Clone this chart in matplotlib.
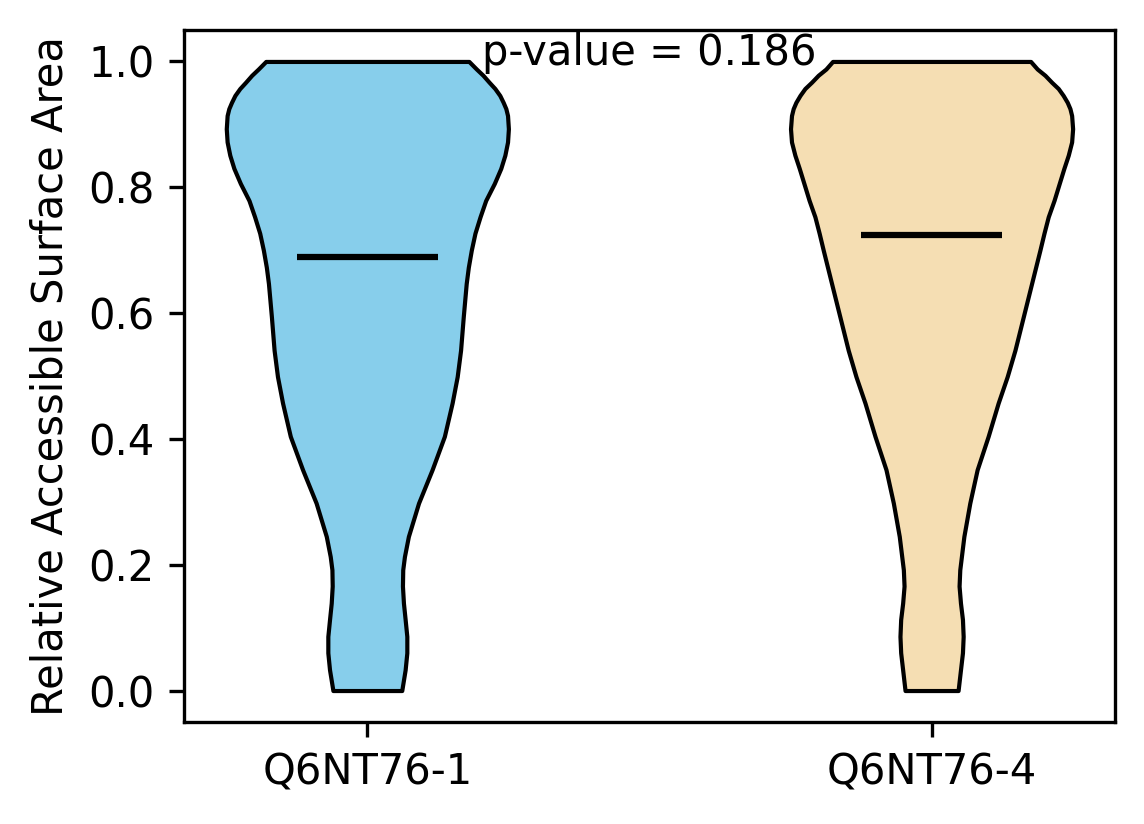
import matplotlib
matplotlib.use('Agg')
import matplotlib.pyplot as plt

# Relative density of each violin at the RSA levels below
isoforms = ['Q6NT76-1', 'Q6NT76-4']
colors = ['skyblue', 'wheat']
p_value = 0.186

rsa_1 = [0.0, 0.033, 0.060, 0.086, 0.113, 0.139, 0.166, 0.192, 0.213, 0.245,
         0.298, 0.351, 0.404, 0.457, 0.499, 0.541, 0.594, 0.647, 0.673, 0.700,
         0.727, 0.753, 0.779, 0.806, 0.830, 0.851, 0.872, 0.893, 0.914, 0.925,
         0.935, 0.946, 0.957, 0.967, 0.978, 0.988, 1.0]
dens_1 = [0.244, 0.268, 0.280, 0.280, 0.268, 0.256, 0.249, 0.251, 0.263, 0.291,
          0.363, 0.459, 0.546, 0.601, 0.637, 0.661, 0.680, 0.701, 0.716, 0.737,
          0.763, 0.799, 0.839, 0.900, 0.946, 0.975, 0.994, 1.000, 0.994, 0.982,
          0.963, 0.939, 0.904, 0.863, 0.820, 0.773, 0.720]
mean_1 = 0.689

rsa_4 = [0.0, 0.033, 0.060, 0.086, 0.113, 0.139, 0.166, 0.192, 0.245, 0.298,
         0.351, 0.404, 0.457, 0.499, 0.541, 0.594, 0.647, 0.700, 0.727, 0.753,
         0.779, 0.806, 0.830, 0.851, 0.872, 0.893, 0.914, 0.925, 0.935, 0.946,
         0.957, 0.967, 0.978, 0.988, 1.0]
dens_4 = [0.188, 0.205, 0.219, 0.224, 0.219, 0.205, 0.195, 0.200, 0.229, 0.271,
          0.323, 0.401, 0.472, 0.536, 0.591, 0.650, 0.709, 0.768, 0.797, 0.827,
          0.868, 0.905, 0.938, 0.969, 0.993, 1.000, 0.993, 0.981, 0.962, 0.933,
          0.898, 0.851, 0.804, 0.749, 0.702]
mean_4 = 0.724


def make_stats(coords, vals, mean):
    return {'coords': coords, 'vals': vals, 'mean': mean, 'median': mean,
            'min': min(coords), 'max': max(coords)}


vpstats = [make_stats(rsa_1, dens_1, mean_1), make_stats(rsa_4, dens_4, mean_4)]

fig, ax = plt.subplots(figsize=(1144 / 300, 824 / 300), dpi=300)
parts = ax.violin(vpstats, positions=[1, 2], widths=0.5,
                  showmeans=True, showextrema=False)
for body, c in zip(parts['bodies'], colors):
    body.set_facecolor(c)
    body.set_edgecolor('black')
    body.set_alpha(1)
    body.set_linewidth(1)
parts['cmeans'].set_color('black')
parts['cmeans'].set_linewidth(1.5)

ax.set_xticks([1, 2])
ax.set_xticklabels(isoforms)
ax.set_ylabel('Relative Accessible Surface Area')
ax.text(0.5, 0.95, f'p-value = {p_value}', transform=ax.transAxes,
        ha='center', va='baseline', fontsize=10)

fig.subplots_adjust(left=0.1608, right=0.9746, bottom=0.1238, top=0.9636)
fig.savefig('out.png', dpi=300)
